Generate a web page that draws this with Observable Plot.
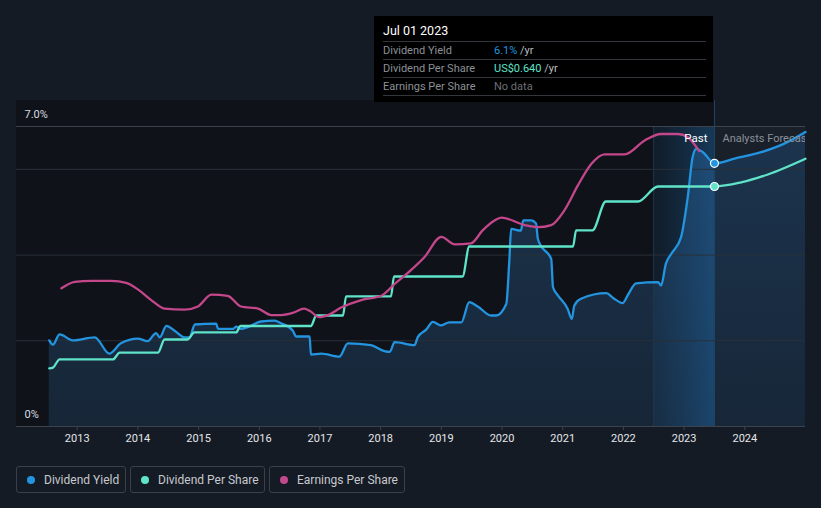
<!DOCTYPE html>
<html>
<head>
<meta charset="utf-8">
<script src="https://cdn.jsdelivr.net/npm/d3@7"></script>
<script src="https://cdn.jsdelivr.net/npm/@observablehq/plot@0.6"></script>
<style>
  html, body { margin: 0; padding: 0; background: #151b24; }
  body { font-family: Roboto, "Noto Sans", sans-serif; }
  #wrap { position: relative; width: 821px; height: 508px; overflow: hidden; background: #151b24; }
  #chart svg { display: block; }
  .tip { position: absolute; left: 374px; top: 16px; width: 339px; height: 86px; background: #000; box-sizing: border-box; padding: 0 7px 0 9px; }
  .tip .date { color: #fff; font-size: 12.5px; height: 25px; line-height: 29px; border-bottom: 1px solid #33363b; }
  .tip .row { display: flex; height: 17px; line-height: 17px; font-size: 11px; border-bottom: 1px solid #33363b; }
  .tip .lab { width: 111px; color: #8c9096; }
  .tip .unit { color: #b9bcc0; }
  .legend { position: absolute; left: 16px; top: 466px; display: flex; }
  .legend .item { box-sizing: border-box; height: 27px; border: 1px solid #3b414b; border-radius: 3px; display: flex; align-items: center; padding-left: 10px; margin-right: 4px; color: #c6c9ce; font-size: 12px; }
  .legend .dot { width: 8px; height: 8px; border-radius: 50%; margin-right: 9px; }
</style>
</head>
<body>
<div id="wrap">
  <div id="chart"></div>
  <div class="tip">
    <div class="date">Jul 01 2023</div>
    <div class="row"><span class="lab">Dividend Yield</span><span><span style="color:#2394df">6.1%</span><span class="unit"> /yr</span></span></div>
    <div class="row"><span class="lab">Dividend Per Share</span><span><span style="color:#5fe3c9">US$0.640</span><span class="unit"> /yr</span></span></div>
    <div class="row"><span class="lab">Earnings Per Share</span><span style="color:#6b6f76">No data</span></div>
  </div>
  <div class="legend">
    <div class="item" style="width:110px"><span class="dot" style="background:#2394df"></span>Dividend Yield</div>
    <div class="item" style="width:135px"><span class="dot" style="background:#5fe3c9"></span>Dividend Per Share</div>
    <div class="item" style="width:136px"><span class="dot" style="background:#c4468b"></span>Earnings Per Share</div>
  </div>
</div>
<script>
// ---- Data (x in decimal years) ----
const yieldYears = [2012.54,2012.60,2012.71,2012.93,2013.29,2013.53,2013.72,2014.00,2014.16,2014.30,2014.36,2014.47,2014.60,2014.77,2014.85,2014.94,2015.29,2015.32,2015.57,2015.62,2015.70,2015.81,2016.03,2016.25,2016.36,2016.55,2016.61,2016.83,2016.85,2017.02,2017.32,2017.46,2017.84,2018.06,2018.15,2018.23,2018.56,2018.61,2018.75,2018.86,2019.00,2019.13,2019.33,2019.46,2019.60,2019.82,2019.90,2020.07,2020.12,2020.15,2020.31,2020.35,2020.48,2020.56,2020.59,2020.64,2020.81,2020.84,2020.92,2021.08,2021.15,2021.19,2021.30,2021.72,2021.83,2021.99,2022.07,2022.21,2022.57,2022.62,2022.70,2022.79,2022.95,2023.06,2023.14,2023.20,2023.31,2023.50];
const yieldValues = [2.01,1.91,2.15,2.01,2.08,1.70,1.94,2.05,1.99,2.18,2.08,2.35,2.24,2.08,2.08,2.38,2.40,2.28,2.28,2.33,2.28,2.32,2.45,2.47,2.41,2.24,2.10,2.10,1.68,1.70,1.63,1.94,1.90,1.76,1.74,1.97,1.90,2.08,2.26,2.44,2.36,2.43,2.43,2.90,2.80,2.59,2.59,2.86,3.87,4.61,4.57,4.81,4.81,4.74,4.38,4.22,3.91,3.25,3.06,2.75,2.51,2.82,2.98,3.11,3.00,2.88,3.06,3.34,3.37,3.29,3.80,4.03,4.42,5.35,6.28,6.48,6.40,6.14];
const yieldForecastYears = [2023.50,2023.83,2024.27,2024.65,2025.00];
const yieldForecastValues = [6.14,6.25,6.40,6.60,6.87];

// Dividend per share, US$
const dpsYears = [2012.54,2012.60,2012.71,2013.59,2013.70,2014.33,2014.44,2014.82,2014.93,2015.62,2015.69,2016.85,2016.94,2017.38,2017.43,2018.17,2018.22,2019.35,2019.46,2021.17,2021.22,2021.49,2021.71,2022.24,2022.57,2023.50];
const dpsValues = [0.155,0.157,0.179,0.179,0.197,0.197,0.232,0.232,0.251,0.251,0.268,0.268,0.296,0.296,0.347,0.347,0.400,0.400,0.480,0.480,0.523,0.523,0.600,0.600,0.640,0.640];
const dpsForecastYears = [2023.50,2023.94,2024.38,2025.00];
const dpsForecastValues = [0.640,0.651,0.672,0.714];

// Earnings per share, US$
const epsYears = [2012.74,2012.96,2013.23,2013.56,2013.81,2014.00,2014.22,2014.44,2014.77,2014.99,2015.21,2015.48,2015.70,2015.98,2016.20,2016.36,2016.55,2016.74,2016.83,2016.99,2017.13,2017.35,2017.68,2018.01,2018.23,2018.50,2018.72,2019.00,2019.22,2019.49,2019.68,2019.87,2019.99,2020.37,2020.59,2020.81,2021.03,2021.25,2021.47,2021.69,2022.02,2022.35,2022.62,2022.90,2023.06,2023.25];
const epsValues = [1.29,1.35,1.36,1.36,1.34,1.28,1.18,1.10,1.09,1.12,1.23,1.22,1.12,1.10,1.04,1.04,1.06,1.10,1.08,1.02,1.04,1.11,1.18,1.22,1.33,1.46,1.58,1.77,1.70,1.71,1.83,1.92,1.95,1.88,1.86,1.88,2.02,2.25,2.45,2.54,2.54,2.67,2.73,2.73,2.70,2.57];

const xTicks = [2013,2014,2015,2016,2017,2018,2019,2020,2021,2022,2023,2024];
const yLabelValues = [0, 7];
const yLabelTexts = ["0%", "7.0%"];
const gridValues = [2, 4, 6];
const nowYear = 2023.5;
const bandStart = 2022.5;
const regionLabels = ["Past", "Analysts Forecasts"];

// secondary-axis factors (map US$ onto the yield axis)
const dpsFactor = 8.75;
const epsFactor = 2.5;

const BLUE = "#2394df", TEAL = "#5fe3c9", PINK = "#c4468b";

const zip = (xs, ys) => xs.map((x, i) => ({x, y: ys[i]}));
const yieldPast = zip(yieldYears, yieldValues);
const yieldFc = zip(yieldForecastYears, yieldForecastValues);
const yieldAll = yieldPast.concat(yieldFc.slice(1));
const dpsPast = zip(dpsYears, dpsValues.map(v => v * dpsFactor));
const dpsFc = zip(dpsForecastYears, dpsForecastValues.map(v => v * dpsFactor));
const epsPast = zip(epsYears, epsValues.map(v => v * epsFactor));

const defs = () => {
  const g = d3.create("svg:defs");
  const band = g.append("linearGradient").attr("id", "bandGrad").attr("x1", 0).attr("x2", 1).attr("y1", 0).attr("y2", 0);
  band.append("stop").attr("offset", 0).attr("stop-color", "#1f6bad").attr("stop-opacity", 0.10);
  band.append("stop").attr("offset", 1).attr("stop-color", "#2277c0").attr("stop-opacity", 0.38);
  const area = g.append("linearGradient").attr("id", "areaGrad").attr("x1", 0).attr("x2", 0).attr("y1", 0).attr("y2", 1);
  area.append("stop").attr("offset", 0).attr("stop-color", "#1c3550").attr("stop-opacity", 0.95);
  area.append("stop").attr("offset", 1).attr("stop-color", "#172739").attr("stop-opacity", 0.95);
  return g.node();
};

const chart = Plot.plot({
  width: 821,
  height: 460,
  marginLeft: 16,
  marginRight: 16,
  marginTop: 126,
  marginBottom: 34,
  style: { background: "transparent", fontFamily: "Roboto, sans-serif", overflow: "visible" },
  x: { type: "linear", domain: [2012, 2025], axis: null, label: null },
  y: { domain: [0, 7], axis: null, label: null },
  marks: [
    defs,
    // past region (darker), reaching up to the tooltip
    Plot.rect([{}], { x1: 2012, x2: nowYear, y1: 0, y2: 7.6, fill: "#0f1319" }),
    // forecast region (lighter)
    Plot.rect([{}], { x1: nowYear, x2: 2025, y1: 0, y2: 7, fill: "#19202a" }),
    // area under dividend yield
    Plot.areaY(yieldAll, { x: "x", y: "y", fill: "url(#areaGrad)", curve: "monotone-x" }),
    // highlight band of the last year
    Plot.rect([{}], { x1: bandStart, x2: nowYear, y1: 0, y2: 7, fill: "url(#bandGrad)" }),
    Plot.ruleX([bandStart], { y1: 0, y2: 7, stroke: "#22384d", strokeWidth: 1 }),
    Plot.ruleX([nowYear], { y1: 0, y2: 7.6, stroke: "#1f4566", strokeWidth: 1 }),
    // gridlines
    Plot.ruleY(gridValues, { stroke: "#2a3039", strokeWidth: 1 }),
    Plot.ruleY([7], { stroke: "#3d434c", strokeWidth: 1 }),
    Plot.ruleY([0], { stroke: "#3d434c", strokeWidth: 1 }),
    // x axis
    Plot.axisX(xTicks, { tickSize: 4, tickPadding: 4, stroke: "#3d434c", fill: "#e4e6ea", fontSize: 11, label: null, tickFormat: d => String(d) }),
    // y labels
    Plot.text(yLabelValues, { x: 2012, y: d => d, text: (d, i) => yLabelTexts[i], dx: 8, dy: -12, textAnchor: "start", fill: "#d8dbe0", fontSize: 11 }),
    // lines
    Plot.line(yieldAll, { x: "x", y: "y", stroke: BLUE, strokeWidth: 2.3, curve: "monotone-x" }),
    Plot.line(dpsPast.concat(dpsFc.slice(1)), { x: "x", y: "y", stroke: TEAL, strokeWidth: 2.3, curve: "monotone-x" }),
    Plot.line(epsPast, { x: "x", y: "y", stroke: PINK, strokeWidth: 2.3, curve: "monotone-x" }),
    // current-value dots
    Plot.dot([yieldFc[0]], { x: "x", y: "y", r: 4, fill: BLUE, stroke: "#ffffff", strokeWidth: 1.2 }),
    Plot.dot([dpsFc[0]], { x: "x", y: "y", r: 4, fill: TEAL, stroke: "#ffffff", strokeWidth: 1.2 }),
    // region labels
    Plot.text([regionLabels[0]], { x: nowYear, y: 7, text: d => d, dx: -7, dy: 12, textAnchor: "end", fill: "#ffffff", fontSize: 11.5 }),
    Plot.text([regionLabels[1]], { x: nowYear, y: 7, text: d => d, dx: 8, dy: 12, textAnchor: "start", fill: "#8b9099", fontSize: 11, clip: true })
  ]
});
document.getElementById("chart").appendChild(chart);
</script>
</body>
</html>
